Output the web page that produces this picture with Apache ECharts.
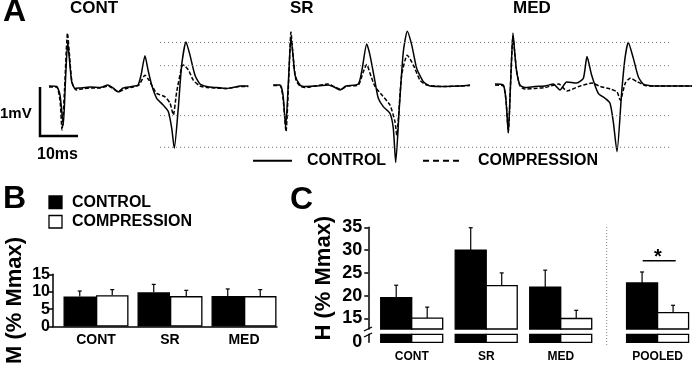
<!DOCTYPE html>
<html>
<head>
<meta charset="utf-8">
<script src="https://cdn.jsdelivr.net/npm/echarts@6/dist/echarts.min.js"></script>
<style>
html, body { margin: 0; background: #fff; }
#chart { width: 693px; height: 366px; }
</style>
</head>
<body>
<div id="chart"></div>
<script>
// Panel A: representative EMG traces, [time (ms), amplitude (mV)]
const contControl = [[2.37,0.02],[4.39,0.01],[5.26,-0.16],[6.13,-0.78],[6.71,0.14],[7.29,0.92],[7.76,0.55],[8.34,0.11],[9.21,-0.03],[10.53,-0.02],[13.16,0],[15.79,-0.01],[17.89,0.04],[19.21,-0.02],[20.61,-0.10],[21.84,-0.02],[24.13,0.01],[25.79,0.04],[26.58,0.24],[27.63,0.64],[28.42,0.35],[29.39,0.04],[30.71,-0.23],[32.45,-0.37],[33.76,-0.50],[34.66,-0.84],[35.34,-1.25],[36.39,-0.43],[37.29,0.45],[38.42,0.92],[39.47,0.65],[40.79,0.24],[42.11,0.06],[43.87,0.01],[46.05,-0.01],[49.13,-0.03],[51.32,0],[52.63,0.02],[54.82,0.02]];
const contCompression = [[2.37,0],[4.39,0],[5.26,-0.27],[5.79,-0.88],[6.45,-0.06],[7.24,1.10],[7.76,0.65],[8.42,0.10],[9.47,-0.06],[11.05,-0.04],[13.16,-0.02],[15.79,-0.02],[17.89,0.02],[19.21,-0.03],[20.61,-0.10],[22.37,-0.04],[24.47,0],[26.05,0.04],[27.63,0.24],[28.68,0.14],[29.39,0.04],[30.71,-0.13],[32.89,-0.20],[34.21,-0.33],[35.08,-0.57],[35.97,-0.10],[37.29,0.41],[37.71,0.45],[39.03,0.35],[40.34,0.14],[42.11,0.02],[43.87,-0.01],[49.13,-0.03],[52.63,0.01],[54.82,0.01]];
const srControl = [[61.39,0.04],[63.16,0.04],[63.95,-0.16],[64.66,-0.82],[65.39,0.14],[66.05,1.02],[66.58,0.65],[67.11,0.24],[68.42,0.04],[69.29,0.01],[72.37,0.02],[75.87,0.04],[77.37,0],[78.95,-0.06],[80.53,0.02],[83.76,0.06],[84.74,0.35],[85.97,0.88],[86.84,0.65],[88.16,0.11],[89.03,-0.23],[90.34,-0.40],[92.11,-0.54],[92.97,-0.84],[93.61,-1.54],[94.55,-0.43],[95.61,0.72],[96.66,1.14],[97.82,0.86],[99.13,0.38],[100.87,0.11],[102.63,0.02],[106.58,0.01],[110.53,0.02],[113.16,0.04]];
const srCompression = [[61.39,0.03],[63.16,0.03],[63.95,-0.22],[64.74,-0.91],[65.39,0.04],[66.05,1.12],[66.58,0.65],[67.37,0.14],[68.42,0.02],[69.74,-0.01],[72.37,0.02],[75.79,0.06],[77.37,0.01],[79.21,-0.05],[80.79,0.02],[83.76,0.04],[85.0,0.29],[85.97,0.46],[86.84,0.28],[88.16,0.01],[89.92,-0.16],[92.11,-0.37],[93.42,-0.71],[93.87,-0.98],[95.18,0.24],[96.66,0.65],[98.24,0.45],[100.0,0.14],[101.76,0.04],[106.58,0.01],[110.53,0.02],[113.16,0.03]];
const medControl = [[119.74,0.06],[121.92,0.04],[122.63,-0.27],[123.24,-0.94],[123.82,0.04],[124.47,1.10],[125.0,0.65],[125.45,0.31],[126.32,0.04],[127.63,-0.01],[130.26,0.01],[132.89,0.02],[135.08,0.06],[136.84,-0.06],[138.61,0.10],[141.24,0.08],[143.0,0.18],[143.95,0.62],[145.18,0.24],[146.92,-0.13],[148.68,-0.23],[150.0,-0.33],[150.87,-0.71],[151.84,-1.32],[153.08,-0.10],[153.95,0.59],[154.82,0.91],[156.13,0.59],[157.45,0.21],[158.76,0.06],[161.84,0.02],[165.79,0.02],[171.58,0.02]];
const medCompression = [[119.74,0.04],[121.92,0.02],[122.63,-0.27],[123.24,-0.92],[123.82,0.04],[124.47,1.04],[125.0,0.63],[125.53,0.27],[126.32,0.02],[127.63,-0.04],[130.26,-0.03],[132.89,-0.01],[136.5,0.06],[138.68,-0.08],[141.76,0.01],[145.26,0.08],[147.45,0.01],[150.08,-0.04],[151.84,-0.10],[152.71,-0.27],[154.03,0.08],[155.34,0.18],[157.11,0.11],[159.29,0.03],[161.84,0.02],[165.79,0.02],[171.58,0.02]];
// dotted reference levels (mV) and their time span (ms)
const refLevels = [0.91, 0.435, -0.585, -1.23];
const refSpan = [31.6, 165.8];
// scale bar
const scaleMs = 10;
const scaleMv = 1;

// Panel B: M wave (% Mmax), mean and SEM
const groupsB = ['CONT', 'SR', 'MED'];
const mControl = [8.6, 9.85, 8.75];
const mControlSem = [1.6, 2.25, 2.05];
const mCompression = [9.0, 8.75, 8.75];
const mCompressionSem = [1.6, 1.65, 1.85];

// Panel C: H reflex (% Mmax), mean and SEM
const groupsC = ['CONT', 'SR', 'MED', 'POOLED'];
const hControl = [19.6, 30.0, 21.9, 22.8];
const hControlSem = [2.7, 4.9, 3.7, 2.4];
const hCompression = [15.1, 22.2, 15.0, 16.3];
const hCompressionSem = [2.4, 2.8, 1.8, 1.6];

// layout
const FONT = '"Liberation Sans", Arial, sans-serif';
const posB = [0, 1, 2];
const posC = [0, 1, 2, 3.3];
const BAR_B = 32.5;
const BAR_C = 31;
const BREAK_C = 12.7;  // where the upper part of the broken axis starts
const STUB_C = 2;      // height of the stub below the break

const pairs = (pos, vals, sem) => pos.map((x, i) => sem ? [x, vals[i], sem[i]] : [x, vals[i]]);

const errorBar = (side, width) => (params, api) => {
	const x = api.value(0);
	const m = api.value(1);
	const base = api.coord([x, m]);
	const top = api.coord([x, m + api.value(2)]);
	const cx = base[0] + side * width / 2;
	const st = { stroke: '#000', lineWidth: 1.2 };
	return {
		type: 'group',
		children: [
			{ type: 'line', shape: { x1: cx, y1: base[1], x2: cx, y2: top[1] }, style: st },
			{ type: 'line', shape: { x1: cx - 2, y1: top[1], x2: cx + 2, y2: top[1] }, style: st }
		]
	};
};

const brokenBar = (side, fill, floor, ceil) => (params, api) => {
	const x = api.value(0);
	const p0 = api.coord([x, floor]);
	const p1 = api.coord([x, Math.min(api.value(1), ceil)]);
	const left = side < 0 ? p0[0] - BAR_C : p0[0];
	return {
		type: 'rect',
		shape: { x: left, y: p1[1], width: BAR_C, height: p0[1] - p1[1] },
		style: { fill, stroke: '#000', lineWidth: 1.3 }
	};
};

const trace = (name, data, dashed) => ({
	type: 'line', name, data, xAxisIndex: 0, yAxisIndex: 0,
	symbol: 'none', smooth: 0.2, silent: true,
	lineStyle: { color: '#000', width: 1.5, type: dashed ? [4, 2] : 'solid' }
});

const label = (text, x, y, size, align = 'left') => ({
	type: 'text', x, y, silent: true,
	style: { text, fill: '#000', font: `bold ${size}px ${FONT}`, align, verticalAlign: 'middle' }
});
const seg = (x1, y1, x2, y2, style) => ({
	type: 'line', silent: true, shape: { x1, y1, x2, y2 },
	style: Object.assign({ stroke: '#000', lineWidth: 1.5 }, style)
});

const axisBlack = { show: true, onZero: false, lineStyle: { color: '#000', width: 1.5 } };
const tickBlack = { show: true, length: 4, lineStyle: { color: '#000', width: 1.5 } };
const boldText = (size) => ({ color: '#000', fontFamily: FONT, fontWeight: 700, fontSize: size });

const chart = echarts.init(document.getElementById('chart'), null, { renderer: 'canvas' });

chart.setOption({
	animation: false,
	backgroundColor: '#fff',
	textStyle: { fontFamily: FONT },
	grid: [
		{ left: 40, top: 18.4, width: 652, height: 149.45 },
		{ left: 53, top: 274.3, width: 224, height: 68 },
		{ left: 368.3, top: 227.3, width: 323.7, height: 101.7 },
		{ left: 368.3, top: 334.3, width: 323.7, height: 8 }
	],
	xAxis: [
		{ gridIndex: 0, type: 'value', min: 0, max: 171.58, show: false },
		{
			gridIndex: 1, type: 'value', min: -0.581, max: 2.446,
			axisLine: axisBlack, axisTick: { show: false }, splitLine: { show: false },
			axisLabel: Object.assign({
				customValues: posB, formatter: (v) => groupsB[posB.indexOf(v)], margin: 7
			}, boldText(14))
		},
		{ gridIndex: 2, type: 'value', min: -0.5826, max: 3.762, show: false },
		{
			gridIndex: 3, type: 'value', min: -0.5826, max: 3.762,
			axisLine: { show: false }, axisTick: { show: false }, splitLine: { show: false },
			axisLabel: Object.assign({
				customValues: posC, formatter: (v) => groupsC[posC.indexOf(v)], margin: 8
			}, boldText(12))
		}
	],
	yAxis: [
		{ gridIndex: 0, type: 'value', min: -1.65, max: 1.4, show: false },
		{
			gridIndex: 1, type: 'value', min: 0, max: 15, interval: 5,
			axisLine: axisBlack, axisTick: tickBlack, splitLine: { show: false },
			axisLabel: Object.assign({ margin: 3 }, boldText(16)),
			name: 'M (% Mmax)', nameLocation: 'middle', nameRotate: 90, nameGap: 27,
			nameTextStyle: boldText(22)
		},
		{
			gridIndex: 2, type: 'value', min: BREAK_C, max: 35,
			axisLine: axisBlack, splitLine: { show: false },
			axisTick: Object.assign({ customValues: [15, 20, 25, 30, 35] }, tickBlack),
			axisLabel: Object.assign({ customValues: [15, 20, 25, 30, 35], margin: 6 }, boldText(18)),
			name: 'H (% Mmax)', nameLocation: 'middle', nameRotate: 90, nameGap: 33,
			nameTextStyle: boldText(22)
		},
		{
			gridIndex: 3, type: 'value', min: 0, max: STUB_C,
			axisLine: axisBlack, axisTick: { show: false }, splitLine: { show: false },
			axisLabel: Object.assign({ customValues: [0], margin: 6, padding: [0, 0, 6, 0] }, boldText(18))
		}
	],
	series: [
		trace('CONTROL', contControl, false),
		trace('COMPRESSION', contCompression, true),
		trace('CONTROL', srControl, false),
		trace('COMPRESSION', srCompression, true),
		trace('CONTROL', medControl, false),
		trace('COMPRESSION', medCompression, true),
		...refLevels.map((v) => ({
			type: 'line', xAxisIndex: 0, yAxisIndex: 0, symbol: 'none', silent: true,
			data: [[refSpan[0], v], [refSpan[1], v]],
			lineStyle: { color: '#666', width: 1, type: [1, 3] }
		})),
		{
			type: 'line', xAxisIndex: 0, yAxisIndex: 0, symbol: 'none', silent: true,
			data: [[0, 0], [0, -scaleMv], [scaleMs, -scaleMv]],
			lineStyle: { color: '#000', width: 2.5, join: 'miter' }
		},
		// panel B
		{
			type: 'bar', name: 'CONTROL', xAxisIndex: 1, yAxisIndex: 1,
			data: pairs(posB, mControl), barWidth: BAR_B, barGap: '0%',
			itemStyle: { color: '#000', borderColor: '#000', borderWidth: 1.3 }
		},
		{
			type: 'bar', name: 'COMPRESSION', xAxisIndex: 1, yAxisIndex: 1,
			data: pairs(posB, mCompression), barWidth: BAR_B, barGap: '0%',
			itemStyle: { color: '#fff', borderColor: '#000', borderWidth: 1.3 }
		},
		{
			type: 'custom', xAxisIndex: 1, yAxisIndex: 1, encode: { x: 0, y: 1 },
			data: pairs(posB, mControl, mControlSem), renderItem: errorBar(-1, BAR_B)
		},
		{
			type: 'custom', xAxisIndex: 1, yAxisIndex: 1, encode: { x: 0, y: 1 },
			data: pairs(posB, mCompression, mCompressionSem), renderItem: errorBar(1, BAR_B)
		},
		// panel C, upper part of the broken axis
		{
			type: 'custom', xAxisIndex: 2, yAxisIndex: 2, encode: { x: 0, y: 1 },
			data: pairs(posC, hControl), renderItem: brokenBar(-1, '#000', BREAK_C, 35)
		},
		{
			type: 'custom', xAxisIndex: 2, yAxisIndex: 2, encode: { x: 0, y: 1 },
			data: pairs(posC, hCompression), renderItem: brokenBar(1, '#fff', BREAK_C, 35)
		},
		{
			type: 'custom', xAxisIndex: 2, yAxisIndex: 2, encode: { x: 0, y: 1 },
			data: pairs(posC, hControl, hControlSem), renderItem: errorBar(-1, BAR_C)
		},
		{
			type: 'custom', xAxisIndex: 2, yAxisIndex: 2, encode: { x: 0, y: 1 },
			data: pairs(posC, hCompression, hCompressionSem), renderItem: errorBar(1, BAR_C)
		},
		// panel C, stub below the break
		{
			type: 'custom', xAxisIndex: 3, yAxisIndex: 3, encode: { x: 0, y: 1 },
			data: pairs(posC, hControl), renderItem: brokenBar(-1, '#000', 0, STUB_C)
		},
		{
			type: 'custom', xAxisIndex: 3, yAxisIndex: 3, encode: { x: 0, y: 1 },
			data: pairs(posC, hCompression), renderItem: brokenBar(1, '#fff', 0, STUB_C)
		}
	],
	graphic: [
		label('A', 3, 12, 32),
		label('CONT', 70, 8, 17),
		label('SR', 290, 8.7, 17),
		label('MED', 513, 8.3, 17),
		label('1mV', 0, 114, 15),
		label('10ms', 37, 155, 16),
		seg(253, 160.7, 292, 160.7, { lineWidth: 2 }),
		label('CONTROL', 307, 160.7, 16),
		seg(423, 160.7, 463, 160.7, { lineWidth: 2, lineDash: [6, 4] }),
		label('COMPRESSION', 478, 160.7, 16),
		label('B', 3, 199, 32),
		{ type: 'rect', silent: true, shape: { x: 49, y: 196, width: 13, height: 12.5 }, style: { fill: '#000', stroke: '#000', lineWidth: 1.3 } },
		{ type: 'rect', silent: true, shape: { x: 49, y: 215.5, width: 13, height: 12.5 }, style: { fill: '#fff', stroke: '#000', lineWidth: 1.3 } },
		label('CONTROL', 72, 202.5, 16),
		label('COMPRESSION', 72, 222, 16),
		label('C', 290, 200, 32),
		seg(364, 331, 372, 327, { lineWidth: 1.3 }),
		seg(364, 337, 372, 333, { lineWidth: 1.3 }),
		seg(606.7, 227, 606.7, 345, { stroke: '#888', lineWidth: 1, lineDash: [1, 2] }),
		seg(642.7, 260.7, 675.7, 260.7, { lineWidth: 1.5 }),
		label('*', 658, 257, 20, 'center')
	]
});
</script>
</body>
</html>
